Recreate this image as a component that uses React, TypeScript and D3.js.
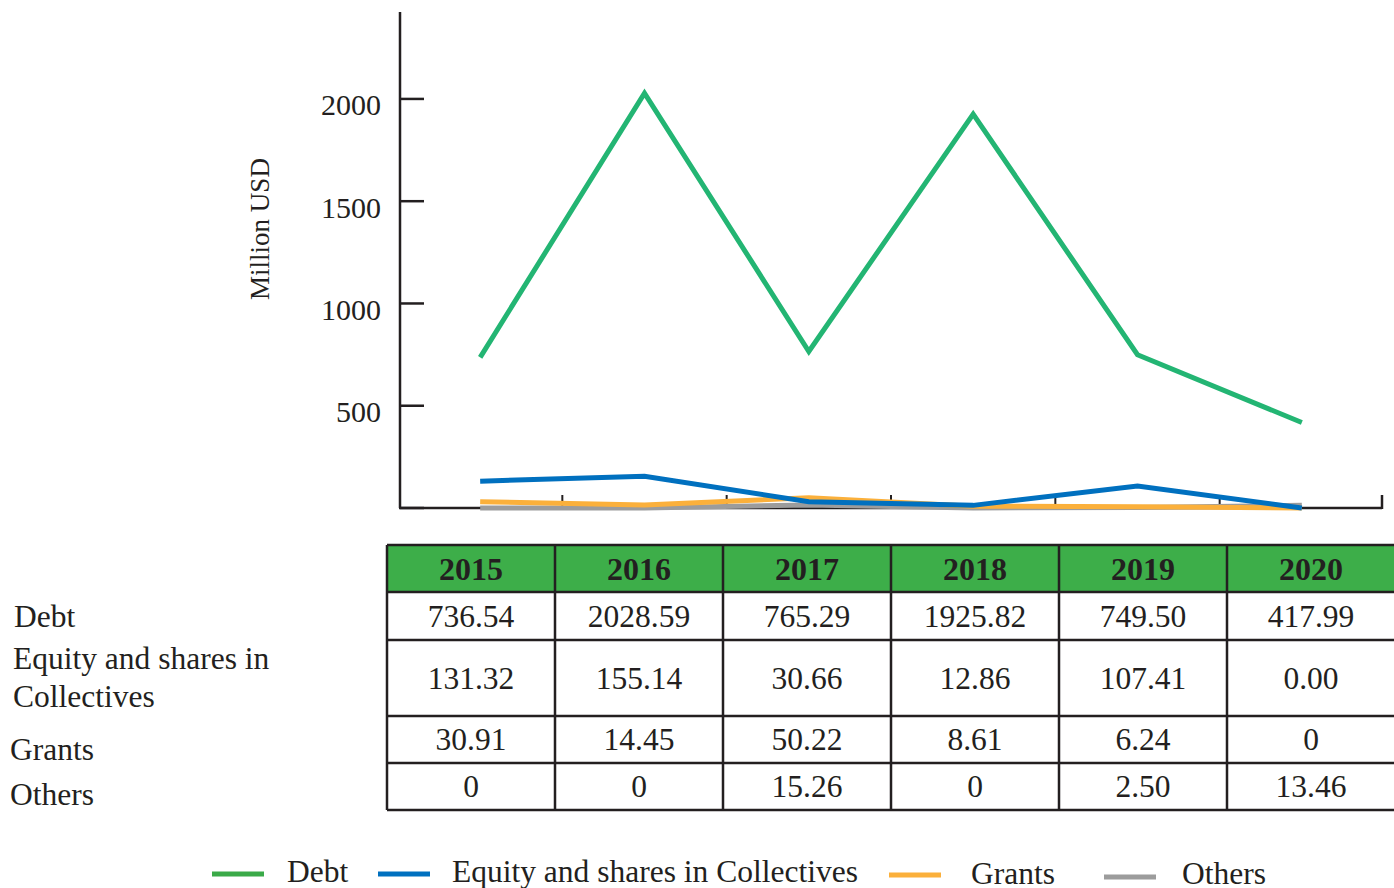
import React from 'react';
import * as d3 from 'd3';

// Financing by instrument, million USD
const years = ['2015', '2016', '2017', '2018', '2019', '2020'];
const debt = [736.54, 2028.59, 765.29, 1925.82, 749.5, 417.99];
const equity = [131.32, 155.14, 30.66, 12.86, 107.41, 0.0];
const grants = [30.91, 14.45, 50.22, 8.61, 6.24, 0];
const others = [0, 0, 15.26, 0, 2.5, 13.46];
const yTicks = [0, 500, 1000, 1500, 2000];
const seriesNames = ['Debt', 'Equity and shares in Collectives', 'Grants', 'Others'];

const FONT = '"Liberation Serif", "Times New Roman", serif';
const INK = '#231f20';

type Series = {
  name: string;
  values: number[];
  line: string;
  legend: string;
  zeroAsInt: boolean;
};

const series: Series[] = [
  { name: seriesNames[0], values: debt, line: '#23b573', legend: '#3aaa48', zeroAsInt: true },
  { name: seriesNames[1], values: equity, line: '#0070bf', legend: '#0070bf', zeroAsInt: false },
  { name: seriesNames[2], values: grants, line: '#fbb03b', legend: '#fbb03b', zeroAsInt: true },
  { name: seriesNames[3], values: others, line: '#9c9c9c', legend: '#9c9c9c', zeroAsInt: true },
];

const fmt = (v: number, zeroAsInt: boolean) => (v === 0 && zeroAsInt ? '0' : v.toFixed(2));

export default function App() {
  const W = 1394;
  const H = 888;

  // plot scales
  const x = d3.scaleBand<string>().domain(years).range([398, 1384]).padding(0);
  const cx = (yr: string) => (x(yr) as number) + x.bandwidth() / 2;
  const y = d3.scaleLinear().domain([0, 2425]).range([508, 12]);

  const line = d3
    .line<number>()
    .x((_, i) => cx(years[i]))
    .y((v) => y(v));

  // table layout
  const col = d3.scaleBand<string>().domain(years).range([387, 387 + 168 * 6]).padding(0);
  const rowHeights = [47, 48, 76, 47, 47];
  const rowTops = rowHeights.reduce<number[]>((acc, h, i) => {
    acc.push(i === 0 ? 545 : acc[i - 1] + rowHeights[i - 1]);
    return acc;
  }, []);
  const tableBottom = rowTops[rowTops.length - 1] + rowHeights[rowHeights.length - 1];
  const tableRight = 387 + 168 * 6;

  const drawOrder = [3, 2, 1, 0];

  const legendItems = [
    { s: series[0], lx: 212, tx: 287, ly: 874, ty: 882 },
    { s: series[1], lx: 378, tx: 452, ly: 874, ty: 882 },
    { s: series[2], lx: 889, tx: 971, ly: 875, ty: 884 },
    { s: series[3], lx: 1104, tx: 1182, ly: 877, ty: 884 },
  ];

  return (
    <svg
      width={W}
      height={H}
      style={{ position: 'absolute', left: 0, top: 0, background: '#fff' }}
      fontFamily={FONT}
    >
      <rect width={W} height={H} fill="#fff" />

      {/* y axis */}
      <line x1={400} x2={400} y1={12} y2={y(0)} stroke={INK} strokeWidth={2.5} />
      {yTicks.map((t) => (
        <g key={t}>
          <line x1={400} x2={424} y1={y(t)} y2={y(t)} stroke={INK} strokeWidth={2.5} />
          {t > 0 && (
            <text x={381} y={y(t) + 6} textAnchor="end" dominantBaseline="central" fontSize={30} fill={INK}>
              {t}
            </text>
          )}
        </g>
      ))}
      <text
        transform={`translate(${260},${229}) rotate(-90)`}
        textAnchor="middle"
        dominantBaseline="central"
        fontSize={27}
        fill={INK}
      >
        Million USD
      </text>

      {/* x axis */}
      <line x1={399} x2={1382} y1={y(0)} y2={y(0)} stroke={INK} strokeWidth={2.5} />
      {years.slice(1).map((yr) => (
        <line key={yr} x1={x(yr)} x2={x(yr)} y1={y(0)} y2={y(0) - 13} stroke={INK} strokeWidth={2} />
      ))}
      <line x1={1382} x2={1382} y1={y(0) + 1} y2={y(0) - 13} stroke={INK} strokeWidth={2.5} />

      {/* series lines */}
      {drawOrder.map((i) => (
        <path
          key={series[i].name}
          d={line(series[i].values) || ''}
          fill="none"
          stroke={series[i].line}
          strokeWidth={5}
          strokeLinejoin="miter"
        />
      ))}

      {/* data table */}
      <rect x={387} y={rowTops[0]} width={tableRight - 387} height={rowHeights[0]} fill="#3dae49" />
      {rowTops.map((t) => (
        <line key={t} x1={387} x2={tableRight} y1={t} y2={t} stroke={INK} strokeWidth={2.5} />
      ))}
      <line x1={387} x2={tableRight} y1={tableBottom} y2={tableBottom} stroke={INK} strokeWidth={2.5} />
      {years.map((yr) => (
        <line key={yr} x1={col(yr)} x2={col(yr)} y1={545} y2={tableBottom} stroke={INK} strokeWidth={2.5} />
      ))}
      {years.map((yr) => (
        <text
          key={yr}
          x={(col(yr) as number) + col.bandwidth() / 2}
          y={rowTops[0] + rowHeights[0] / 2}
          textAnchor="middle"
          dominantBaseline="central"
          fontSize={32}
          fontWeight="bold"
          fill={INK}
        >
          {yr}
        </text>
      ))}
      {series.map((s, r) =>
        s.values.map((v, i) => (
          <text
            key={s.name + i}
            x={(col(years[i]) as number) + col.bandwidth() / 2}
            y={rowTops[r + 1] + rowHeights[r + 1] / 2}
            textAnchor="middle"
            dominantBaseline="central"
            fontSize={31.5}
            fill={INK}
          >
            {fmt(v, s.zeroAsInt)}
          </text>
        ))
      )}

      {/* row labels */}
      <g fontSize={31.5} fill={INK}>
        <text x={14} y={627}>Debt</text>
        <text x={13} y={669}>Equity and shares in</text>
        <text x={13} y={707}>Collectives</text>
        <text x={10} y={760}>Grants</text>
        <text x={10} y={805}>Others</text>
      </g>

      {/* legend */}
      {legendItems.map(({ s, lx, tx, ly, ty }) => (
        <g key={s.name}>
          <line x1={lx} x2={lx + 52} y1={ly} y2={ly} stroke={s.legend} strokeWidth={5} />
          <text x={tx} y={ty} fontSize={31.5} fill={INK}>
            {s.name}
          </text>
        </g>
      ))}
    </svg>
  );
}
